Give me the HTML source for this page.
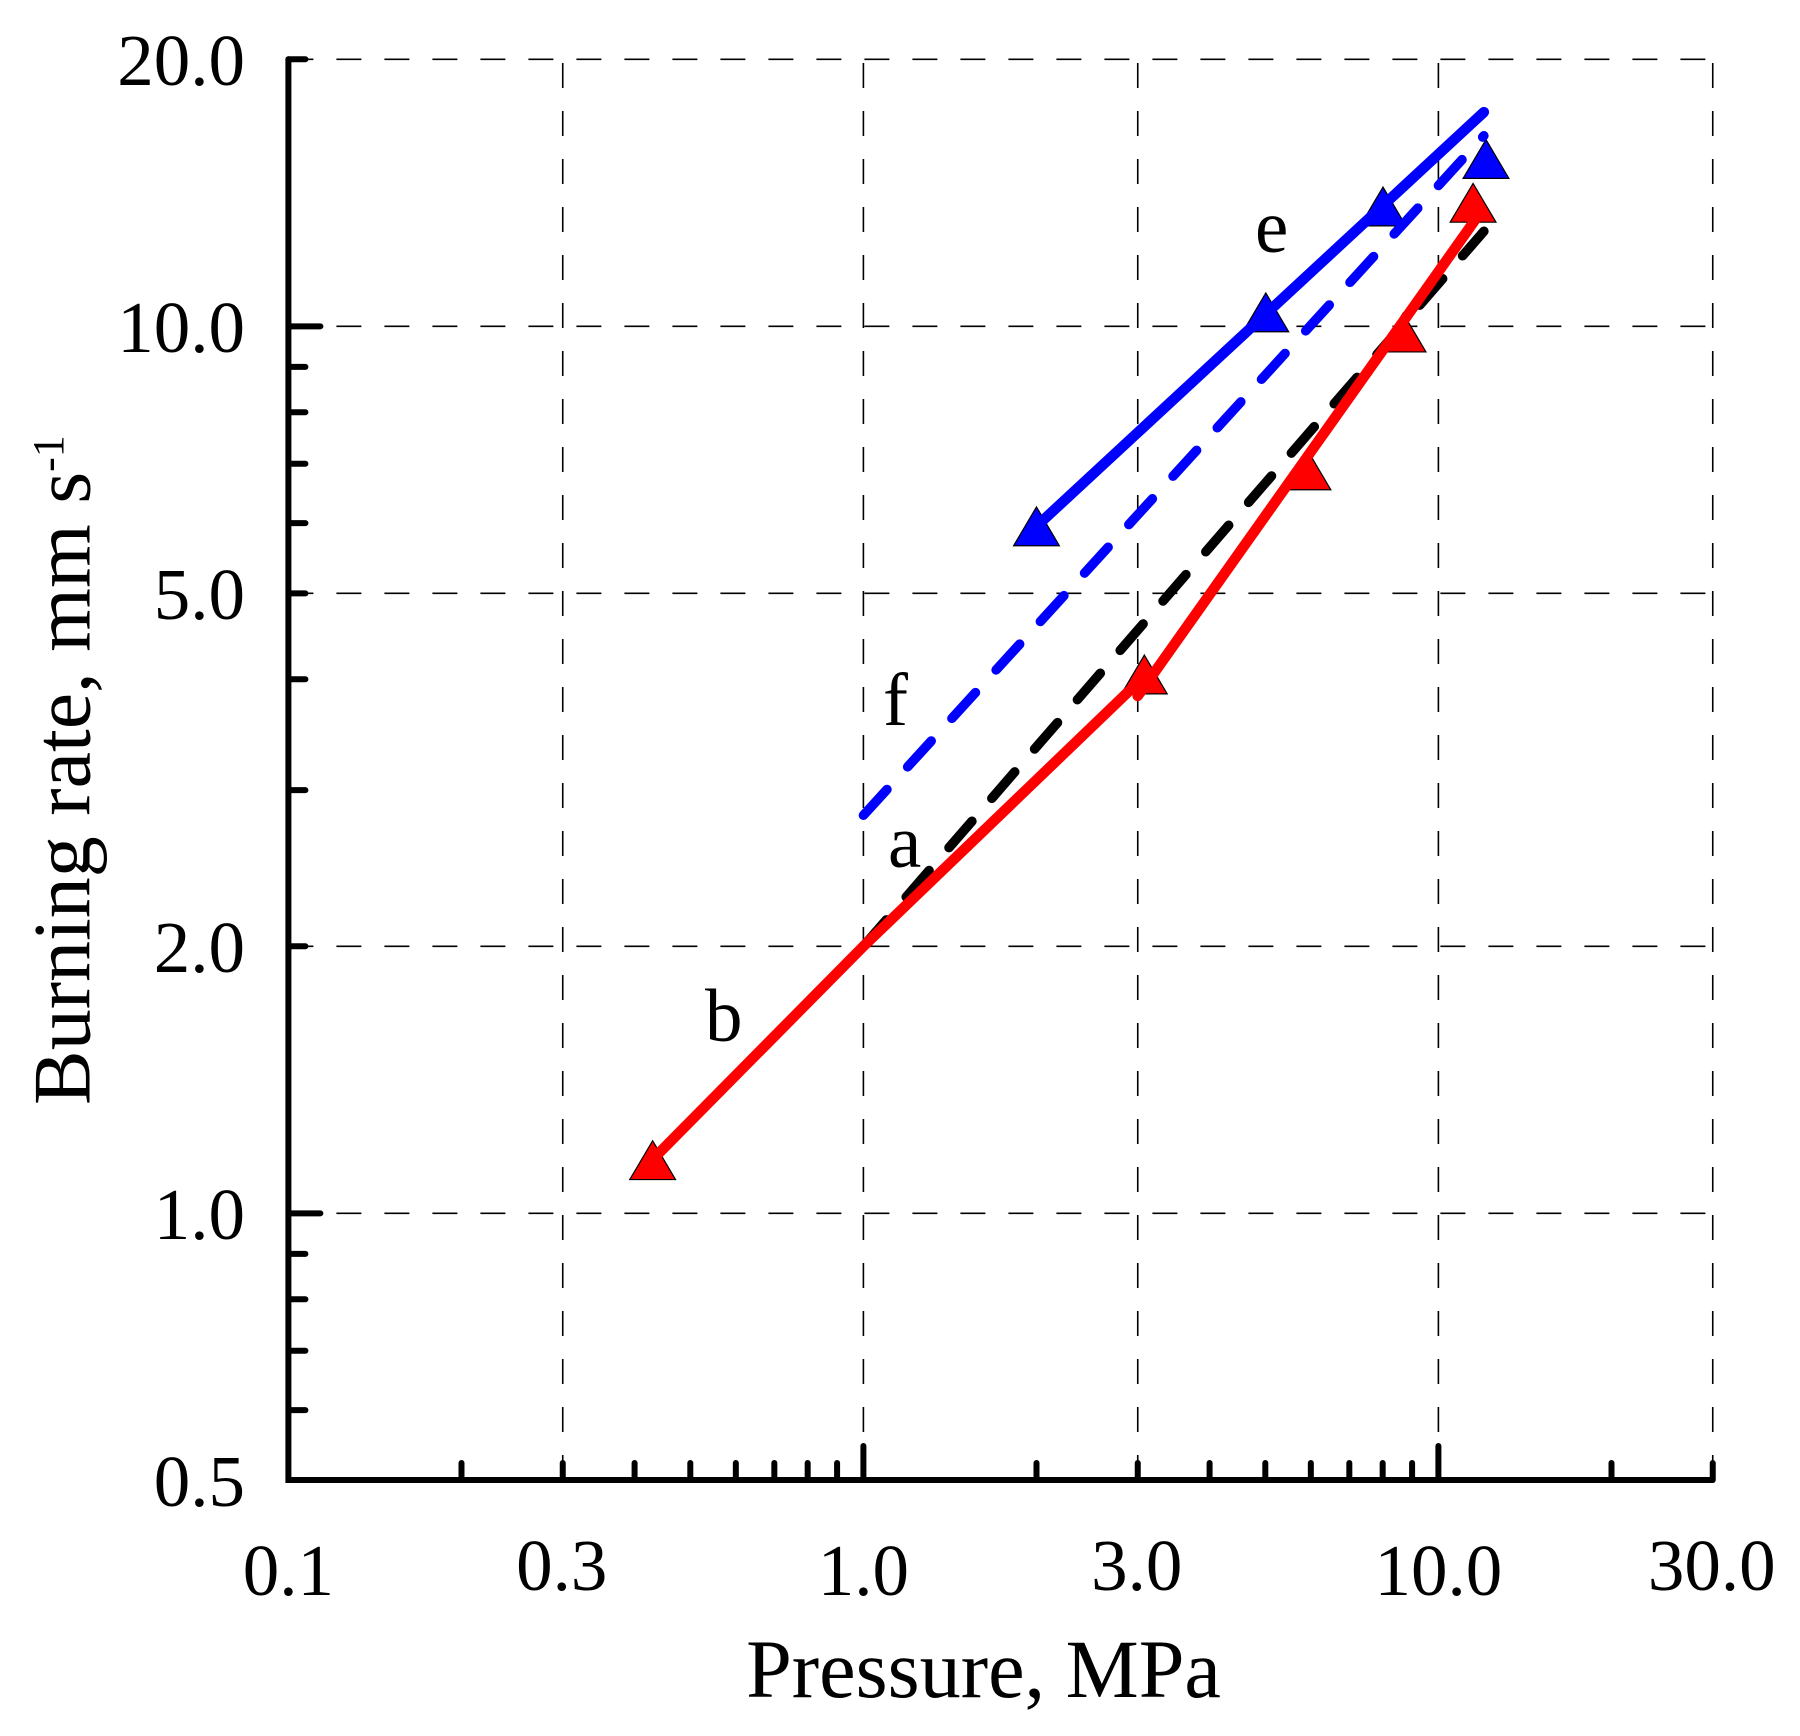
<!DOCTYPE html>
<html lang="en">
<head>
<meta charset="utf-8">
<title>Burning rate vs pressure</title>
<style>
html,body{margin:0;padding:0;background:#fff;}
svg{display:block;}
text{font-family:"Liberation Serif",serif;fill:#000;}
</style>
</head>
<body>
<svg id="chart" xmlns="http://www.w3.org/2000/svg" width="1800" height="1736" viewBox="0 0 1800 1736">
<rect width="1800" height="1736" fill="#fff"/>
<g id="grid"></g>
<g id="series-under"></g>
<g id="markers"></g>
<g id="series-over"></g>
<g id="axes"></g>
<g id="tick-labels" font-size="73"></g>
<text x="983.5" y="1697" font-size="82.2" text-anchor="middle">Pressure, MPa</text>
<text transform="translate(89.5 1105) rotate(-90)" font-size="82">Burning rate, mm s<tspan font-size="44" dy="-26.5">-1</tspan></text>
<text x="1255" y="252" font-size="75">e</text>
<text x="883" y="725" font-size="75">f</text>
<text x="888" y="867" font-size="75">a</text>
<text x="705" y="1041" font-size="75">b</text>
</svg>
<script>
// Axis tick values
const xGridValues = [0.3, 1, 3, 10, 30];
const yGridValues = [1, 2, 5, 10, 20];
const xMinorTicks = [0.2, 0.3, 0.4, 0.5, 0.6, 0.7, 0.8, 0.9, 2, 3, 4, 5, 6, 7, 8, 9, 20, 30];
const xMajorTicks = [1, 10];
const yMinorTicks = [0.6, 0.7, 0.8, 0.9, 2, 3, 4, 5, 6, 7, 8, 9, 20];
const yMajorTicks = [1, 10];
const xLabelsLower = ["0.1", "1.0", "10.0"];
const xLabelsUpper = ["0.3", "3.0", "30.0"];
const yLabels = ["0.5", "1.0", "2.0", "5.0", "10.0", "20.0"];

// Series a: dashed black
const seriesAPressure = [1, 12];
const seriesARate = [2, 12.8];
// Series b: solid red, low-pressure branch
const seriesBLowPressure = [0.43, 1, 3.03];
const seriesBLowRate = [1.15, 2, 3.99];
// Series b: solid red, high-pressure branch
const seriesBHighPressure = [3, 11.6];
const seriesBHighRate = [3.83, 13.2];
// Series e: solid blue
const seriesEPressure = [2, 12];
const seriesERate = [5.95, 17.44];
// Series f: dashed blue
const seriesFPressure = [1, 12];
const seriesFRate = [2.81, 16.4];
// Red triangles
const redMarkerPressure = [0.43, 3.08, 5.93, 8.68, 11.49];
const redMarkerRate = [1.148, 4.05, 6.88, 9.84, 13.78];
// Blue triangles
const blueMarkerPressure = [2.0, 5.01, 8.01, 12.1];
const blueMarkerRate = [5.95, 10.37, 13.65, 15.44];

const SVGNS = "http://www.w3.org/2000/svg";
const xLeft = 288.4, xRight = 1712.5, yTop = 59.3, yBottom = 1480;
const xOf = p => 288.4 + 575 * (Math.log10(p) + 1);
const yOf = v => 59.3 + 887 * Math.log10(20 / v);

function make(tag, attrs, parent) {
  const el = document.createElementNS(SVGNS, tag);
  for (const k in attrs) el.setAttribute(k, attrs[k]);
  parent.appendChild(el);
  return el;
}

const grid = document.getElementById("grid");
xGridValues.forEach(v => {
  const el = make("line", {x1: xOf(v), x2: xOf(v), y1: yBottom, y2: yTop, stroke: "#000", "stroke-width": 1.6, "stroke-dasharray": "25 23"}, grid);
  
  
});
yGridValues.forEach(v => {
  const el = make("line", {x1: xLeft, x2: xRight, y1: yOf(v), y2: yOf(v), stroke: "#000", "stroke-width": 1.6, "stroke-dasharray": "25 23"}, grid);
  
  
});

function linePoints(ps, vs) {
  return ps.map((p, i) => xOf(p).toFixed(1) + "," + yOf(vs[i]).toFixed(1)).join(" ");
}

const under = document.getElementById("series-under");
const over = document.getElementById("series-over");
const markers = document.getElementById("markers");

const lineA = make("polyline", {points: linePoints(seriesAPressure, seriesARate), fill: "none", stroke: "#000", "stroke-width": 9.5, "stroke-linecap": "round", "stroke-dasharray": "35 30.3"}, under);



function triangle(p, v, color) {
  const cx = xOf(p), cy = yOf(v);
  const el = make("polygon", {points: (cx - 22.9) + "," + (cy + 19.4) + " " + (cx + 22.9) + "," + (cy + 19.4) + " " + cx + "," + (cy - 19.4), fill: color, stroke: "#000", "stroke-width": 1.2}, markers);
  return el;
}
redMarkerPressure.forEach((p, i) => {
  const el = triangle(p, redMarkerRate[i], "#ff0000");
  
  
});
blueMarkerPressure.forEach((p, i) => {
  const el = triangle(p, blueMarkerRate[i], "#0000ff");
  
  
});

const lineF = make("polyline", {points: linePoints(seriesFPressure, seriesFRate), fill: "none", stroke: "#0000ff", "stroke-width": 9.5, "stroke-linecap": "round", "stroke-dasharray": "35 30.6"}, over);


const lineE = make("polyline", {points: linePoints(seriesEPressure, seriesERate), fill: "none", stroke: "#0000ff", "stroke-width": 10.5, "stroke-linecap": "round", "stroke-linejoin": "round"}, over);


const lineBLow = make("polyline", {points: linePoints(seriesBLowPressure, seriesBLowRate), fill: "none", stroke: "#ff0000", "stroke-width": 10.5, "stroke-linecap": "round", "stroke-linejoin": "round"}, over);


const lineBHigh = make("polyline", {points: linePoints(seriesBHighPressure, seriesBHighRate), fill: "none", stroke: "#ff0000", "stroke-width": 10.5, "stroke-linecap": "round", "stroke-linejoin": "round"}, over);



const axes = document.getElementById("axes");
const axisPath = make("path", {d: "M" + xLeft + " " + yTop + "V" + yBottom + "H" + xRight, fill: "none", stroke: "#000", "stroke-width": 6, "stroke-linecap": "round", "stroke-linejoin": "miter"}, axes);



function xTick(v, len) {
  const el = make("line", {x1: xOf(v), x2: xOf(v), y1: yBottom, y2: yBottom - len, stroke: "#000", "stroke-width": 6, "stroke-linecap": "round"}, axes);
  
  
}
function yTick(v, len) {
  const el = make("line", {x1: xLeft, x2: xLeft + len, y1: yOf(v), y2: yOf(v), stroke: "#000", "stroke-width": 6, "stroke-linecap": "round"}, axes);
  
  
}
xMinorTicks.forEach(v => xTick(v, 17));
xMajorTicks.forEach(v => xTick(v, 34));
yMinorTicks.forEach(v => yTick(v, 17));
yMajorTicks.forEach(v => yTick(v, 32));

const labels = document.getElementById("tick-labels");
xLabelsLower.forEach(s => {
  const el = make("text", {x: xOf(parseFloat(s)), y: 1595, "text-anchor": "middle"}, labels);
  el.textContent = s;
  
  
});
xLabelsUpper.forEach(s => {
  const el = make("text", {x: xOf(parseFloat(s)) - 1, y: 1590, "text-anchor": "middle"}, labels);
  el.textContent = s;
  
  
});
yLabels.forEach(s => {
  const el = make("text", {x: 245, y: yOf(parseFloat(s)) + 25.5, "text-anchor": "end"}, labels);
  el.textContent = s;
  
  
});
</script>
</body>
</html>
